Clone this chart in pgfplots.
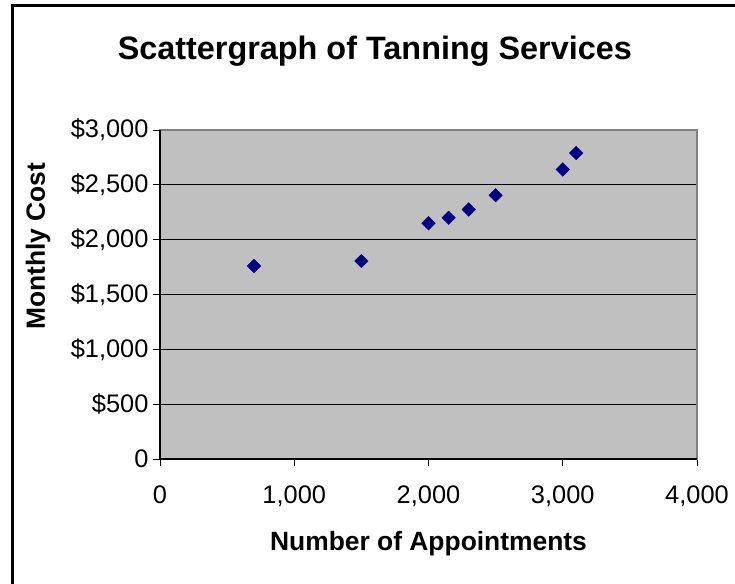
\documentclass[border=0pt]{standalone}
\usepackage{fontspec}
\setmainfont{Liberation Sans}
\usepackage{pgfplots}
\pgfplotsset{compat=1.18}
\definecolor{plotgray}{HTML}{C0C0C0}
\definecolor{bordergray}{HTML}{808080}
\definecolor{navymark}{HTML}{000080}
\begin{document}
\begin{tikzpicture}[x=1bp,y=1bp]
\path[use as bounding box] (0,0) rectangle (735,584);
\fill[white] (0,0) rectangle (735,584);
\draw[black, line width=3bp] (12.5,-5) -- (12.5,578) -- (740,578);
\begin{axis}[
  at={(160bp,125bp)}, anchor=south west,
  scale only axis, width=537bp, height=329bp,
  xmin=0, xmax=4000, ymin=0, ymax=3000,
  xtick={0,1000,2000,3000,4000},
  xticklabels={0,{1,000},{2,000},{3,000},{4,000}},
  ytick={0,500,1000,1500,2000,2500,3000},
  yticklabels={0,{\$500},{\$1,000},{\$1,500},{\$2,000},{\$2,500},{\$3,000}},
  xtick pos=bottom, ytick pos=left,
  tick align=outside, major tick length=7bp,
  tick style={black, line width=0.8bp},
  ticklabel style={font=\fontsize{25.5}{28}\selectfont},
  yticklabel style={xshift=-1bp},
  xticklabel style={yshift=-16bp},
  ymajorgrids, grid style={black, line width=0.9bp},
  axis background/.style={fill=plotgray},
  axis line style={draw=bordergray, line width=2bp},
  xlabel={Number of Appointments},
  ylabel={Monthly Cost},
  label style={font=\fontsize{26.5}{30}\selectfont\bfseries},
  xlabel style={at={(axis description cs:0.5,-0.258)}, anchor=center},
  ylabel style={at={(axis description cs:-0.227,0.647)}, anchor=center, rotate=0},
  title={Scattergraph of Tanning Services},
  title style={at={(axis description cs:0.40,1.222)}, anchor=center, font=\fontsize{32.5}{36}\selectfont\bfseries},
  clip=false,
]
\draw[black, line width=1.2bp] (rel axis cs:0,1) -- (rel axis cs:0,0) -- (rel axis cs:1,0);
\addplot[only marks, mark=square*, mark size=4.8bp, mark options={rotate=45, fill=navymark, draw=navymark}] coordinates {
(700,1760)
(1500,1805)
(2000,2150)
(2150,2200)
(2300,2275)
(2500,2405)
(3000,2640)
(3100,2790)
};
\end{axis}
\end{tikzpicture}
\end{document}
